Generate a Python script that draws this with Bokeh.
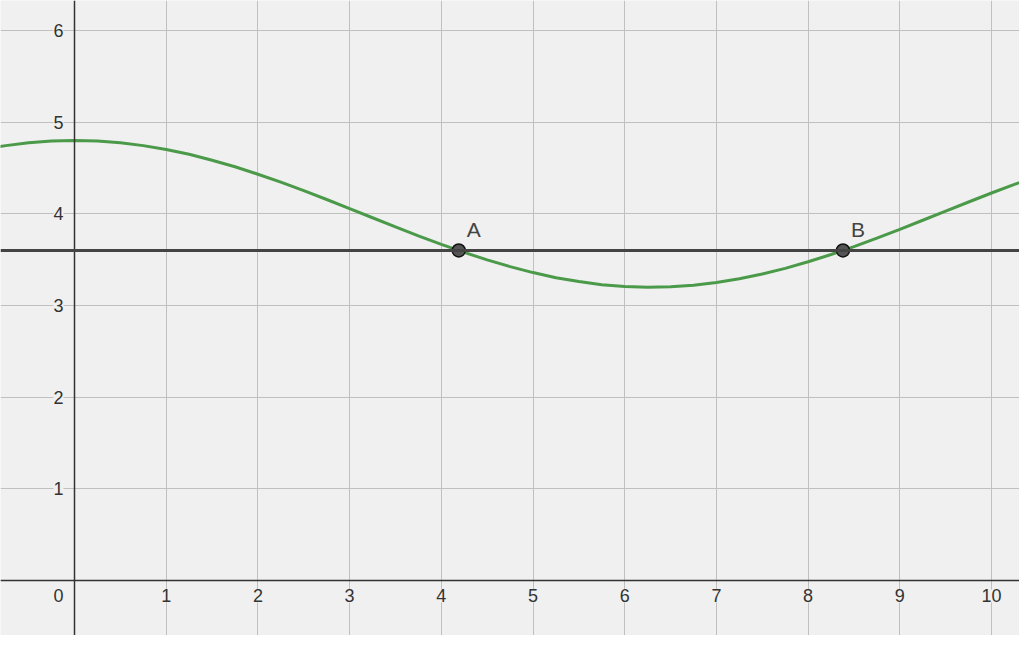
from bokeh.plotting import figure
from bokeh.models import Range1d, Span, Grid, FixedTicker, ColumnDataSource, LabelSet
from bokeh.core.properties import value
from bokeh.embed import file_html
from bokeh.resources import INLINE

# curve samples
curve_x = [-1.0, -0.75, -0.5, -0.25, 0.0, 0.25, 0.5, 0.75, 1.0, 1.25, 1.5, 1.75, 2.0, 2.25, 2.5,
           2.75, 3.0, 3.25, 3.5, 3.75, 4.0, 4.25, 4.5, 4.75, 5.0, 5.25, 5.5, 5.75, 6.0,
           6.25, 6.5, 6.75, 7.0, 7.25, 7.5, 7.75, 8.0, 8.25, 8.5, 8.75, 9.0, 9.25, 9.5,
           9.75, 10.0, 10.25, 10.5]
curve_y = [4.702, 4.744, 4.775, 4.794, 4.800, 4.794, 4.775, 4.744, 4.702, 4.649, 4.585, 4.513,
           4.432, 4.345, 4.252, 4.156, 4.057, 3.957, 3.857, 3.760, 3.667, 3.579, 3.497,
           3.424, 3.359, 3.303, 3.261, 3.227, 3.208, 3.200, 3.205, 3.221, 3.251, 3.292,
           3.344, 3.405, 3.477, 3.556, 3.643, 3.735, 3.831, 3.930, 4.030, 4.129, 4.227,
           4.321, 4.410]

line_level = 3.6
point_names = ["A", "B"]
point_x = [4.19, 8.38]
point_y = [3.6, 3.6]

x_ticks = [1, 2, 3, 4, 5, 6, 7, 8, 9, 10]
x_tick_labels = ["1", "2", "3", "4", "5", "6", "7", "8", "9", "10"]
y_ticks = [1, 2, 3, 4, 5, 6]
y_tick_labels = ["1", "2", "3", "4", "5", "6"]
grid_x = [-1, 0, 1, 2, 3, 4, 5, 6, 7, 8, 9, 10, 11]
grid_y = [-1, 0, 1, 2, 3, 4, 5, 6, 7]

BG = "#f0f0f0"
FONT = value("Liberation Sans")

p = figure(width=1019, height=635, output_backend="svg", toolbar_location=None,
           x_axis_type=None, y_axis_type=None,
           x_range=Range1d(-0.807, 10.305), y_range=Range1d(-0.6, 6.327),
           min_border=0, background_fill_color=BG, border_fill_color=BG)
p.outline_line_color = None

p.add_layout(Grid(dimension=0, ticker=FixedTicker(ticks=grid_x),
                  grid_line_color="#c0c0c0", grid_line_width=1))
p.add_layout(Grid(dimension=1, ticker=FixedTicker(ticks=grid_y),
                  grid_line_color="#c0c0c0", grid_line_width=1))

p.add_layout(Span(location=0, dimension="width", line_color="#333333", line_width=1.5))
p.add_layout(Span(location=0, dimension="height", line_color="#333333", line_width=1.5))

# tick labels
xs = ColumnDataSource(dict(x=x_ticks, y=[0] * len(x_ticks), t=x_tick_labels))
p.add_layout(LabelSet(x="x", y="y", text="t", source=xs, y_offset=-9,
                      text_align="center", text_baseline="top",
                      text_font=FONT, text_font_size="18px", text_color="#333333",
                      background_fill_color=BG))
ys = ColumnDataSource(dict(x=[0] * len(y_ticks), y=y_ticks, t=y_tick_labels))
p.add_layout(LabelSet(x="x", y="y", text="t", source=ys, x_offset=-11,
                      text_align="right", text_baseline="middle",
                      text_font=FONT, text_font_size="18px", text_color="#333333",
                      background_fill_color=BG))
os_ = ColumnDataSource(dict(x=[0], y=[0], t=["0"]))
p.add_layout(LabelSet(x="x", y="y", text="t", source=os_, x_offset=-11, y_offset=-9,
                      text_align="right", text_baseline="top",
                      text_font=FONT, text_font_size="18px", text_color="#333333",
                      background_fill_color=BG))

# horizontal line
p.add_layout(Span(location=line_level, dimension="width", line_color="#444444", line_width=3))

# curve
p.line(curve_x, curve_y, line_color="#4a9a4a", line_width=3)

# points
ps = ColumnDataSource(dict(x=point_x, y=point_y, t=point_names))
p.scatter("x", "y", source=ps, size=13, fill_color="#555555", line_color="#111111", line_width=1.5)
p.add_layout(LabelSet(x="x", y="y", text="t", source=ps, x_offset=8, y_offset=9,
                      text_align="left", text_baseline="bottom",
                      text_font=FONT, text_font_size="21px", text_color="#444444"))

open("out.html", "w").write(file_html(p, INLINE))
